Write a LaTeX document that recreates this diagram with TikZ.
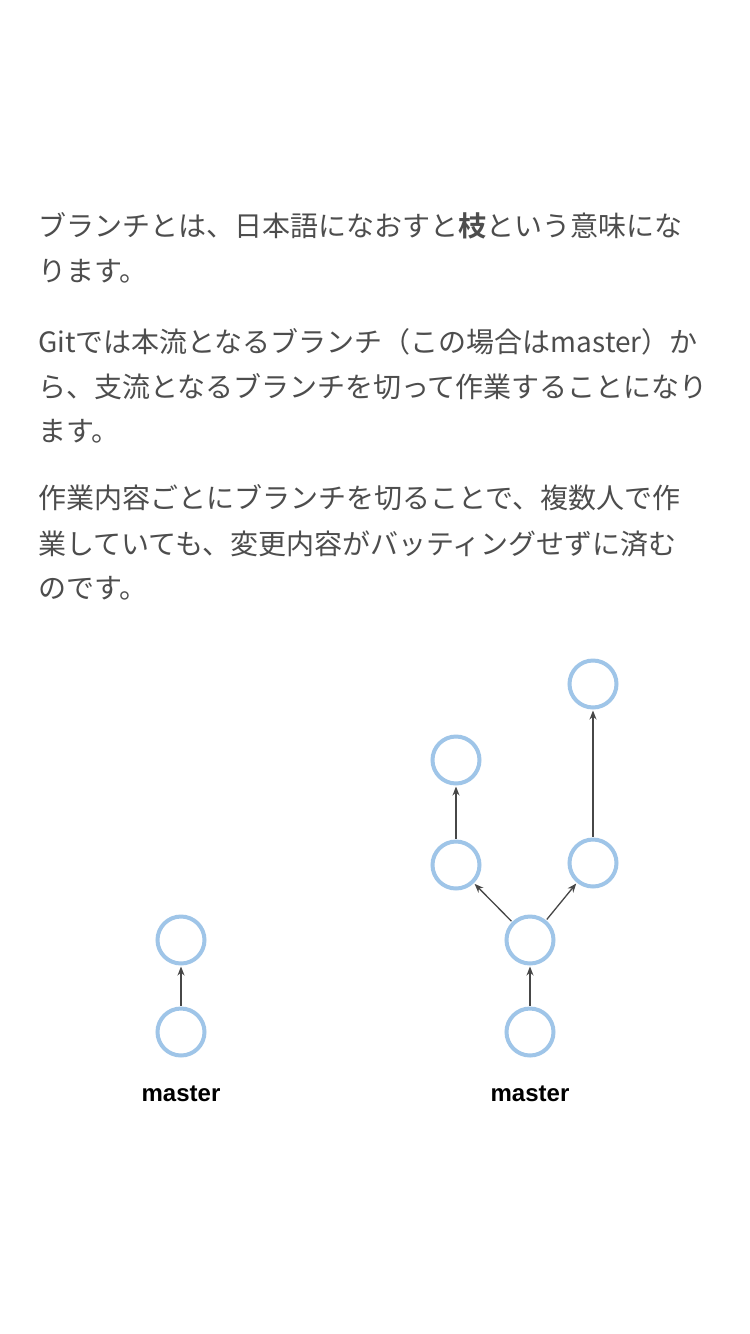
\documentclass[tikz,border=0pt]{standalone}
\usepackage{fontspec}
\setmainfont{Liberation Sans}
\newfontfamily\jpfont[BoldFont={Noto Sans CJK JP Bold}]{Noto Sans CJK JP}
\usetikzlibrary{arrows.meta, positioning}

\definecolor{commitblue}{HTML}{9FC5E8}
\definecolor{bodygray}{HTML}{4D4D4D}
\definecolor{arrowgray}{HTML}{474747}

\tikzset{
  line/.style={anchor=base west, inner sep=0pt, text=bodygray, font=\jpfont\fontsize{28}{34}\selectfont},
  commit/.style={circle, draw=commitblue, line width=4pt, minimum size=47pt, inner sep=0pt},
  branchlabel/.style={anchor=base, inner sep=0pt, font=\bfseries\fontsize{24}{28}\selectfont},
  parent/.style={-{Stealth[length=9pt,width=7pt]}, draw=arrowgray, line width=1.3pt, shorten <=1pt, shorten >=1pt}
}

\begin{document}
\begin{tikzpicture}[x=1pt, y=-1pt]
  \useasboundingbox[fill=white] (0,0) rectangle (750,1334);

  % text
  \node[line] (t1) at (38,236) {ブランチとは、日本語になおすと\textbf{枝}という意味にな};
  \node[line] (t2) at (38,281) {ります。};
  \node[line] (t3) at (38,352) {Gitでは本流となるブランチ（この場合はmaster）か};
  \node[line] (t4) at (38,397) {ら、支流となるブランチを切って作業することになり};
  \node[line] (t5) at (38,441) {ます。};
  \node[line] (t6) at (38,508) {作業内容ごとにブランチを切ることで、複数人で作};
  \node[line] (t7) at (38,554) {業していても、変更内容がバッティングせずに済む};
  \node[line] (t8) at (38,598) {のです。};

  % before branching
  \node[commit] (a1) at (181,1032) {};
  \node[commit] (a2) at (181,940) {};
  \node[branchlabel] (la) at (181,1101) {master};
  \draw[parent] (a1) -- (a2);

  % after branching
  \node[commit] (b1) at (530,1032) {};
  \node[commit] (b2) at (530,940) {};
  \node[commit] (b3) at (456,865) {};
  \node[commit] (b4) at (456,760) {};
  \node[commit] (b5) at (593,863) {};
  \node[commit] (b6) at (593,684) {};
  \node[branchlabel] (lb) at (530,1101) {master};
  \draw[parent] (b1) -- (b2);
  \draw[parent] (b2) -- (b3);
  \draw[parent] (b3) -- (b4);
  \draw[parent] (b2) -- (b5);
  \draw[parent] (b5) -- (b6);
\end{tikzpicture}
\end{document}
